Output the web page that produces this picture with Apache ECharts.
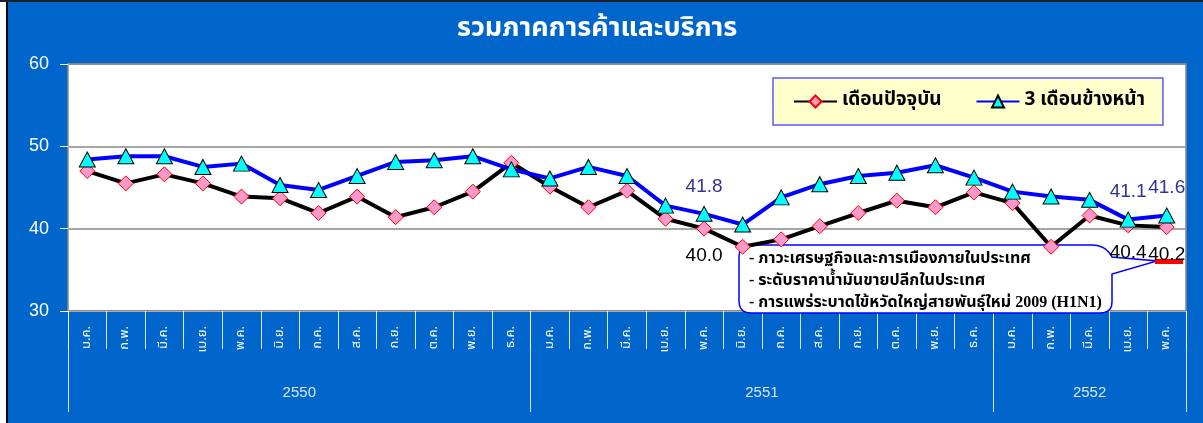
<!DOCTYPE html>
<html>
<head>
<meta charset="utf-8">
<script src="https://cdn.jsdelivr.net/npm/echarts@6/dist/echarts.min.js"></script>
<style>
  html, body { margin: 0; padding: 0; background: #0066cc; }
  #chart { width: 1203px; height: 423px; }
</style>
</head>
<body>
<div id="chart"></div>
<script>
  // data
  var months = ["ม.ค.", "ก.พ.", "มี.ค.", "เม.ย.", "พ.ค.", "มิ.ย.", "ก.ค.", "ส.ค.", "ก.ย.", "ต.ค.", "พ.ย.", "ธ.ค.",
                "ม.ค.", "ก.พ.", "มี.ค.", "เม.ย.", "พ.ค.", "มิ.ย.", "ก.ค.", "ส.ค.", "ก.ย.", "ต.ค.", "พ.ย.", "ธ.ค.",
                "ม.ค.", "ก.พ.", "มี.ค.", "เม.ย.", "พ.ค."];
  var years = ["2550", "2551", "2552"];
  var yearCounts = [12, 12, 5];
  var current = [47.0, 45.5, 46.6, 45.5, 43.9, 43.7, 41.9, 43.9, 41.4, 42.6, 44.5, 48.0,
                 45.1, 42.6, 44.6, 41.2, 40.0, 37.8, 38.7, 40.3, 41.9, 43.4, 42.6, 44.4,
                 43.1, 37.8, 41.6, 40.4, 40.2];
  var ahead = [48.4, 48.8, 48.8, 47.5, 47.9, 45.3, 44.7, 46.4, 48.1, 48.3, 48.8, 47.2,
               46.1, 47.5, 46.4, 42.8, 41.8, 40.5, 43.8, 45.4, 46.4, 46.8, 47.7, 46.2,
               44.5, 43.9, 43.5, 41.1, 41.6];
  var labeled = [16, 27, 28];
  var notes = [
    "- ภาวะเศรษฐกิจและการเมืองภายในประเทศ",
    "- ระดับราคาน้ำมันขายปลีกในประเทศ",
    "- การแพร่ระบาดไข้หวัดใหญ่สายพันธุ์ใหม่ 2009 (H1N1)"
  ];

  var thaiFont = 'Tahoma, "Noto Sans Thai", "Noto Sans", "DejaVu Sans", sans-serif';

  // year per month for the lower axis, plus where each year starts / sits in the middle
  var yearAxis = [], yearStart = [], yearMid = {};
  var pos = 0;
  years.forEach(function (y, i) {
    yearStart.push(pos);
    yearMid[pos + Math.floor(yearCounts[i] / 2)] = yearCounts[i] % 2 === 0;
    for (var k = 0; k < yearCounts[i]; k++) yearAxis.push(y);
    pos += yearCounts[i];
  });

  function withLabels(arr) {
    return arr.map(function (v, i) {
      return labeled.indexOf(i) >= 0 ? { value: v, label: { show: true } } : v;
    });
  }

  // callout outline: rounded box with a wedge pointing right
  function quad(pts, p0, c, p1) {
    for (var t = 0.2; t <= 1.001; t += 0.2) {
      var a = (1 - t) * (1 - t), b = 2 * (1 - t) * t, d = t * t;
      pts.push([a * p0[0] + b * c[0] + d * p1[0], a * p0[1] + b * c[1] + d * p1[1]]);
    }
  }
  var callout = [[751, 245], [1092, 245]];
  quad(callout, [1092, 245], [1106, 245], [1112, 257]);
  callout.push([1157, 261], [1112, 274], [1112, 302]);
  quad(callout, [1112, 302], [1112, 313], [1100, 313]);
  callout.push([751, 313]);
  quad(callout, [751, 313], [739, 313], [739, 301]);
  callout.push([739, 257]);
  quad(callout, [739, 257], [739, 245], [751, 245]);

  var fmt1 = function (p) { return p.value.toFixed(1); };

  var chart = echarts.init(document.getElementById("chart"));
  chart.setOption({
    backgroundColor: "#0066cc",
    animation: false,
    title: {
      text: "รวมภาคการค้าและบริการ",
      left: 452,
      top: 12,
      textStyle: { color: "#fff", fontSize: 27, fontWeight: "bold", fontFamily: thaiFont }
    },
    legend: {
      data: ["เดือนปัจจุบัน", "3 เดือนข้างหน้า"],
      left: 773,
      top: 78,
      padding: [14, 18, 14, 20],
      itemGap: 34,
      itemWidth: 43,
      itemHeight: 15,
      backgroundColor: "#ffffcc",
      borderColor: "#5a5aff",
      borderWidth: 1.5,
      borderRadius: 0,
      textStyle: { color: "#000", fontSize: 19, fontWeight: "bold", fontFamily: thaiFont }
    },
    grid: {
      left: 68,
      right: 17,
      top: 64,
      bottom: 112,
      show: true,
      backgroundColor: "#fff",
      borderColor: "#888",
      borderWidth: 1.5
    },
    xAxis: [
      {
        type: "category",
        data: months,
        boundaryGap: true,
        axisLine: { lineStyle: { color: "#aaa" } },
        axisTick: { show: true, interval: 0, length: 38, lineStyle: { color: "rgba(255,255,255,0.85)" } },
        axisLabel: { interval: 0, rotate: 90, color: "#fff", fontSize: 13, margin: 15, fontFamily: thaiFont }
      },
      {
        type: "category",
        data: yearAxis,
        position: "bottom",
        boundaryGap: true,
        axisLine: { show: false },
        axisTick: {
          show: true,
          length: 101,
          interval: function (i) { return yearStart.indexOf(i) >= 0; },
          lineStyle: { color: "rgba(255,255,255,0.85)" }
        },
        axisLabel: {
          interval: function (i) { return yearMid.hasOwnProperty(i); },
          margin: 74,
          formatter: function (v, i) {
            return yearMid[i] ? "{s|" + v + "}" : "{c|" + v + "}";
          },
          rich: {
            s: { color: "#dde6f5", fontSize: 15, fontFamily: "Arial", padding: [0, 38.6, 0, 0] },
            c: { color: "#dde6f5", fontSize: 15, fontFamily: "Arial" }
          }
        }
      }
    ],
    yAxis: {
      type: "value",
      min: 30,
      max: 60,
      interval: 10,
      axisLine: { show: true, lineStyle: { color: "#aaa" } },
      axisTick: { show: true, length: 8, lineStyle: { color: "#fff" } },
      axisLabel: { color: "#fff", fontSize: 18, fontFamily: "Arial", margin: 19 },
      splitLine: { lineStyle: { color: "#888", width: 1.5 } }
    },
    graphic: [
      { type: "rect", shape: { x: 0, y: 0, width: 6, height: 423 }, style: { fill: "#fff" }, z: 100 },
      { type: "rect", shape: { x: 6, y: 0, width: 2, height: 423 }, style: { fill: "#000" }, z: 100 },
      { type: "rect", shape: { x: 0, y: 0, width: 1203, height: 2 }, style: { fill: "#1a1f2a" }, z: 100 },
      {
        type: "polygon",
        z: 1,
        shape: { points: callout },
        style: { fill: "#fff", stroke: "#0000ff", lineWidth: 1.5 }
      },
      {
        type: "rect",
        z: 1,
        shape: { x: 1155, y: 259, width: 28, height: 5 },
        style: { fill: "#ff0000" }
      },
      {
        type: "text",
        z: 3,
        x: 749,
        y: 248,
        style: {
          text: notes.join("\n"),
          fill: "#000",
          font: 'bold 16px "Liberation Serif", ' + thaiFont,
          lineHeight: 22
        }
      }
    ],
    series: [
      {
        name: "เดือนปัจจุบัน",
        type: "line",
        data: withLabels(current),
        symbol: "diamond",
        symbolSize: [15, 15],
        lineStyle: { color: "#000", width: 4 },
        itemStyle: { color: "#ff99cc", borderColor: "#ff0000", borderWidth: 1 },
        label: { show: false, position: "bottom", distance: 10, color: "#000", fontSize: 19,
                 fontFamily: "Arial", formatter: fmt1 },
        z: 3
      },
      {
        name: "3 เดือนข้างหน้า",
        type: "line",
        data: withLabels(ahead),
        symbol: "triangle",
        symbolSize: [16, 15],
        lineStyle: { color: "#0000ff", width: 4 },
        itemStyle: { color: "#00ffff", borderColor: "#000", borderWidth: 1 },
        label: { show: false, position: "top", distance: 10, color: "#333399", fontSize: 19,
                 fontFamily: "Arial", formatter: fmt1 },
        z: 4
      }
    ]
  });
</script>
</body>
</html>
